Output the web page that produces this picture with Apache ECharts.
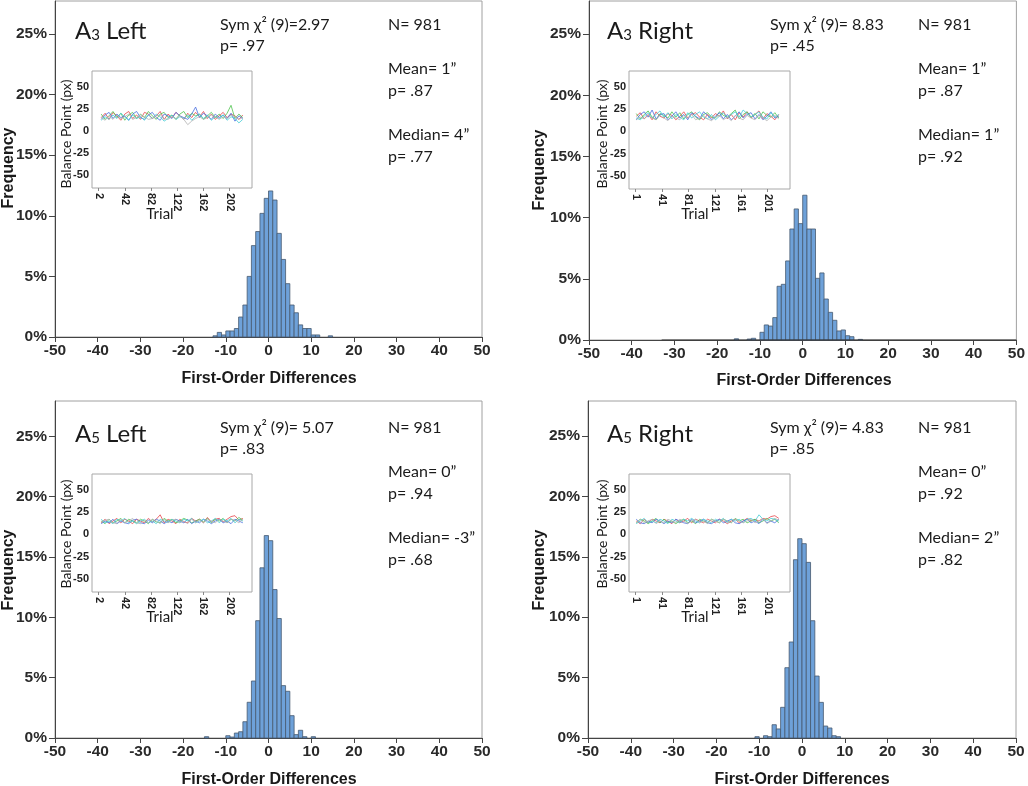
<!DOCTYPE html>
<html>
<head>
<meta charset="utf-8">
<script src="https://cdn.jsdelivr.net/npm/echarts@6/dist/echarts.min.js"></script>
<style>
  html, body { margin: 0; padding: 0; background: #fff; }
  #main { width: 1028px; height: 786px; }
</style>
</head>
<body>
<div id="main"></div>
<script>
// ---- histogram data: left edge of each 1-unit bin, frequency in % ----
var a3LeftBins = [-13,-12,-11,-10,-9,-8,-7,-6,-5,-4,-3,-2,-1,0,1,2,3,4,5,6,7,8,9,10,11,14];
var a3LeftFreq = [0.1,0.38,0.17,0.5,0.5,0.7,1.65,2.64,5.0,7.54,8.7,10.2,11.44,12.05,11.3,8.55,6.4,4.4,2.64,2.0,1.0,0.7,0.7,0.17,0.17,0.1];

var a3RightBins = [-16,-13,-12,-10,-9,-8,-7,-6,-5,-4,-3,-2,-1,0,1,2,3,4,5,6,7,8,9,10,11,13];
var a3RightFreq = [0.1,0.08,0.14,0.63,1.23,1.14,1.83,4.39,4.55,6.46,9.07,10.71,9.51,11.83,9.07,9.07,5.04,5.48,3.35,2.26,1.61,0.74,0.82,0.35,0.27,0.05];
var a3RightSpan = [[-33, 0], [50, 0]]; // empty bins drawn along the baseline

var a5LeftBins = [-15,-10,-9,-8,-7,-6,-5,-4,-3,-2,-1,0,1,2,3,4,5,6,7,8,10];
var a5LeftFreq = [0.11,0.19,0.08,0.41,0.52,1.35,2.96,4.72,9.72,14.1,16.77,16.35,12.3,9.9,4.34,3.87,1.85,0.28,0.64,0.11,0.11];

var a5RightBins = [-11,-9,-8,-7,-6,-5,-4,-3,-2,-1,0,1,2,3,4,5,6,7,8];
var a5RightFreq = [0.11,0.19,0.11,1.1,0.75,2.54,5.82,7.95,14.76,16.5,16.09,14.54,9.71,5.13,2.95,0.99,0.83,0.19,0.11];

// ---- axis tick labels ----
var yTicks = [0,5,10,15,20,25];
var insetYTicks = [-50,-25,0,25,50];
var trialTicksLeft = [2,42,82,122,162,202];
var trialTicksRight = [1,41,81,121,161,201];

// ---- inset trials (sampled) and balance point traces ----
var trialsLeft = [6,12,18,24,30,36,42,48,54,60,66,72,78,84,90,96,102,108,114,120,126,132,138,144,150,156,162,168,174,180,186,192,198,204,210,216,222];
var trialsRight = [2,8,14,20,26,32,38,44,50,56,62,68,74,80,86,92,98,104,110,116,122,128,134,140,146,152,158,164,170,176,182,188,194,200,206,212,218];

var tlRed   = [15,20,13,21,17,12,19,22,14,18,13,21,19,14,17,22,13,19,15,21,17,13,20,15,21,16,22,14,19,13,17,21,15,19,17,13,18];
var tlGreen = [19,13,17,22,15,20,12,18,21,14,19,15,22,17,13,19,21,15,18,13,19,22,15,20,17,19,13,17,21,15,19,14,20,29,14,19,15];
var tlBlue  = [13,18,21,14,19,15,17,12,19,22,15,13,18,21,15,12,19,17,14,21,17,15,13,19,27,15,20,17,13,19,15,18,14,20,11,17,14];
var tlCyan  = [12,16,13,18,14,20,16,12,18,14,16,12,18,14,19,16,11,14,18,13,16,14,18,12,16,19,14,18,12,16,14,18,12,16,14,9,13];
var tlGray  = [15,12,17,13,18,14,16,19,13,15,18,16,13,14,17,18,14,13,16,14,17,13,7,11,14,16,13,15,18,16,13,16,14,18,16,13,15];

var trRed   = [17,21,14,19,13,22,17,15,20,18,13,17,22,15,19,21,16,13,19,15,20,17,23,14,19,13,21,16,22,15,19,23,14,20,17,13,19];
var trGreen = [20,14,19,23,16,13,20,18,15,22,16,21,14,19,22,16,13,19,21,16,15,22,18,16,20,24,14,19,22,16,20,14,22,18,16,21,15];
var trBlue  = [13,19,22,16,24,14,19,20,13,17,22,15,19,13,21,17,14,22,18,13,17,21,14,19,13,17,22,15,19,21,14,19,13,17,22,15,17];
var trCyan  = [15,13,17,21,15,19,23,16,21,14,19,16,13,21,15,19,22,16,14,19,13,17,21,15,19,22,16,24,20,16,19,22,16,14,21,16,19];
var trGray  = [13,16,14,18,15,13,18,15,12,17,15,13,18,15,19,13,15,18,14,12,16,18,13,16,12,18,15,13,18,15,13,18,15,12,16,18,14];

var blRed   = [13,17,12,15,18,13,17,15,12,17,15,13,18,14,17,22,13,17,15,12,17,14,13,18,15,17,13,19,14,17,18,14,17,20,21,16,18];
var blGreen = [15,12,17,13,15,18,13,17,15,13,17,15,12,17,14,13,18,15,17,13,15,18,16,13,15,17,14,18,13,17,15,18,13,17,15,19,16];
var blBlue  = [12,15,13,17,12,15,13,12,16,17,13,12,16,13,17,15,12,15,13,17,15,13,17,12,15,13,17,15,12,15,17,13,15,12,17,15,13];
var blCyan  = [17,13,15,12,17,15,18,13,15,12,15,17,13,15,12,17,15,13,17,15,13,17,15,18,13,15,17,13,15,18,13,17,15,18,13,17,15];
var blGray  = [14,16,17,13,12,17,13,15,18,13,12,16,13,17,15,12,17,13,16,17,13,15,12,17,13,16,13,17,15,13,17,15,13,17,16,13,17];

var brRed   = [15,12,17,13,17,15,13,17,15,12,17,13,15,18,13,17,15,13,17,15,13,17,15,12,15,17,13,15,18,15,17,15,18,17,20,21,18];
var brGreen = [13,17,15,12,15,18,13,17,13,15,12,15,17,13,15,12,17,15,13,17,15,13,17,15,13,18,15,17,13,15,17,13,15,18,15,17,13];
var brBlue  = [17,13,12,15,13,17,15,12,15,13,17,15,13,12,17,13,15,17,13,12,15,17,13,15,17,13,12,15,17,13,15,12,17,13,15,13,17];
var brCyan  = [12,15,18,13,15,13,17,15,12,17,15,13,17,15,18,15,13,17,15,13,17,15,18,13,17,15,17,13,17,18,15,22,17,15,18,17,15];
var brGray  = [13,17,13,15,17,12,15,13,17,15,13,17,15,12,15,17,13,15,12,17,15,13,17,15,13,17,15,13,15,17,13,15,18,12,15,18,16];

// ---- panel texts ----
var titles = ['{t|A}{s|3}{t| Left}', '{t|A}{s|3}{t| Right}', '{t|A}{s|5}{t| Left}', '{t|A}{s|5}{t| Right}'];
var symTests = [
  ['Sym χ² (9)=2.97', 'p= .97'],
  ['Sym χ² (9)= 8.83', 'p= .45'],
  ['Sym χ² (9)= 5.07', 'p= .83'],
  ['Sym χ² (9)= 4.83', 'p= .85']
];
var descriptives = [
  ['N= 981', 'Mean= 1\u201D', 'p= .87', 'Median= 4\u201D', 'p= .77'],
  ['N= 981', 'Mean= 1\u201D', 'p= .87', 'Median= 1\u201D', 'p= .92'],
  ['N= 981', 'Mean= 0\u201D', 'p= .94', 'Median= -3\u201D', 'p= .68'],
  ['N= 981', 'Mean= 0\u201D', 'p= .92', 'Median= 2\u201D', 'p= .82']
];

var chart = echarts.init(document.getElementById('main'));

var axisFont = '"Liberation Sans", Arial, sans-serif';
var textFont = 'Lato, "Open Sans", sans-serif';
var lineColors = ['#e8474c', '#4fc44f', '#4a6fe0', '#47cdd6', '#b3b3b3'];

// positions of each panel (pixels)
var mainGrids = [
  { left: 55,  top: 1,   width: 427, height: 336, max: 27.72 },
  { left: 589, top: 1,   width: 430, height: 339, max: 27.7 },
  { left: 55,  top: 401, width: 427, height: 337, max: 27.92 },
  { left: 588, top: 401, width: 428, height: 337, max: 27.9 }
];
var insetGrids = [
  { left: 92,  top: 71,  width: 160, height: 117, xmin: -8, xmax: 236, ticks: trialTicksLeft },
  { left: 629, top: 71,  width: 161, height: 118, xmin: -9, xmax: 235, ticks: trialTicksRight },
  { left: 92,  top: 474, width: 160, height: 118, xmin: -8, xmax: 236, ticks: trialTicksLeft },
  { left: 629, top: 474, width: 161, height: 118, xmin: -9, xmax: 235, ticks: trialTicksRight }
];
var histBins = [a3LeftBins, a3RightBins, a5LeftBins, a5RightBins];
var histFreq = [a3LeftFreq, a3RightFreq, a5LeftFreq, a5RightFreq];
var insetLines = [
  [tlRed, tlGreen, tlBlue, tlCyan, tlGray],
  [trRed, trGreen, trBlue, trCyan, trGray],
  [blRed, blGreen, blBlue, blCyan, blGray],
  [brRed, brGreen, brBlue, brCyan, brGray]
];
var insetTrials = [trialsLeft, trialsRight, trialsLeft, trialsRight];

function renderBin(params, api) {
  var x0 = api.value(0);
  var v = api.value(1);
  var pTop = api.coord([x0, v]);
  var pBase = api.coord([x0 + 1, 0]);
  return {
    type: 'rect',
    shape: { x: pTop[0], y: pTop[1], width: pBase[0] - pTop[0], height: pBase[1] - pTop[1] },
    style: { fill: '#6ea1d9', stroke: '#46596f', lineWidth: 0.8 }
  };
}

var grid = [], xAxis = [], yAxis = [], series = [], elements = [];

mainGrids.forEach(function (g, i) {
  grid.push({ left: g.left, top: g.top, width: g.width, height: g.height, show: true, borderColor: '#a0a0a0', borderWidth: 1 });
  xAxis.push({
    gridIndex: i, type: 'value', min: -50, max: 50, interval: 10,
    axisLine: { onZero: false, lineStyle: { color: '#444', width: 1 } },
    axisTick: { length: 5, lineStyle: { color: '#444' } },
    axisLabel: { fontFamily: axisFont, fontSize: 15.5, fontWeight: 'bold', color: '#2a2a2a', margin: 6 },
    splitLine: { show: false }
  });
  yAxis.push({
    gridIndex: i, type: 'value', min: 0, max: g.max,
    axisLine: { show: true, onZero: false, lineStyle: { color: '#444', width: 1 } },
    axisTick: { show: true, length: 6, customValues: yTicks, lineStyle: { color: '#444' } },
    axisLabel: { customValues: yTicks, formatter: '{value}%', fontFamily: axisFont, fontSize: 15.5, fontWeight: 'bold', color: '#2a2a2a', margin: 8 },
    splitLine: { show: false }
  });
  series.push({
    type: 'custom', xAxisIndex: i, yAxisIndex: i, renderItem: renderBin,
    encode: { x: 0, y: 1 },
    data: histBins[i].map(function (b, k) { return [b, histFreq[i][k]]; }),
    z: 3
  });
});

series.push({
  type: 'line', xAxisIndex: 1, yAxisIndex: 1, data: a3RightSpan,
  showSymbol: false, lineStyle: { color: '#333', width: 1.2 }, z: 4, silent: true
});

insetGrids.forEach(function (g, j) {
  var idx = 4 + j;
  grid.push({ left: g.left, top: g.top, width: g.width, height: g.height, show: true, backgroundColor: '#fff', borderColor: '#a8a8a8', borderWidth: 1 });
  xAxis.push({
    gridIndex: idx, type: 'value', min: g.xmin, max: g.xmax,
    axisLine: { show: false, onZero: false },
    axisTick: { show: true, length: 3, customValues: g.ticks, lineStyle: { color: '#888' } },
    axisLabel: { customValues: g.ticks, rotate: -90, fontFamily: axisFont, fontSize: 11, fontWeight: 'bold', color: '#222', margin: 5 },
    splitLine: { show: false }
  });
  yAxis.push({
    gridIndex: idx, type: 'value', min: -65, max: 68,
    axisLine: { show: false, onZero: false },
    axisTick: { show: false },
    axisLabel: { customValues: insetYTicks, fontFamily: axisFont, fontSize: 11, fontWeight: 'bold', color: '#222', margin: 3 },
    splitLine: { show: false }
  });
  insetLines[j].forEach(function (vals, c) {
    series.push({
      type: 'line', xAxisIndex: idx, yAxisIndex: idx, showSymbol: false, silent: true,
      data: insetTrials[j].map(function (t, k) { return [t, vals[k]]; }),
      lineStyle: { color: lineColors[c], width: 0.9, opacity: 0.9 }, z: 5
    });
  });
});

function txt(x, y, text, font, opts) {
  opts = opts || {};
  var el = {
    type: 'text', x: x, y: y, rotation: opts.rotation || 0, z: 100, silent: true,
    style: {
      text: text, x: 0, y: 0, font: font, fill: '#1a1a1a',
      align: opts.align || 'left', verticalAlign: 'middle',
      textAlign: opts.align || 'left', textVerticalAlign: 'middle'
    }
  };
  if (opts.rich) el.style.rich = opts.rich;
  elements.push(el);
}

var titleRich = {
  t: { fontFamily: textFont, fontSize: 24, fill: '#1a1a1a', color: '#1a1a1a' },
  s: { fontFamily: textFont, fontSize: 15, fill: '#1a1a1a', color: '#1a1a1a', verticalAlign: 'bottom' }
};

// text anchor points per panel
var panelText = [
  { titleX: 75,  titleY: 31,  symX: 220, descX: 388, top: 0 },
  { titleX: 607, titleY: 31,  symX: 770, descX: 918, top: 0 },
  { titleX: 75,  titleY: 434, symX: 220, descX: 388, top: 403 },
  { titleX: 607, titleY: 434, symX: 770, descX: 918, top: 403 }
];
var descY = [25, 68.5, 90.5, 135, 156.5];
var axisNamePos = [
  { fx: 9,   fy: 168, dx: 269, dy: 379, bx: 66,  by: 134, tx: 160, ty: 214 },
  { fx: 540, fy: 170, dx: 804, dy: 381, bx: 602, by: 134, tx: 695, ty: 214 },
  { fx: 9,   fy: 570, dx: 269, dy: 780, bx: 66,  by: 534, tx: 160, ty: 617 },
  { fx: 540, fy: 570, dx: 802, dy: 780, bx: 602, by: 534, tx: 695, ty: 617 }
];

panelText.forEach(function (p, i) {
  txt(p.titleX, p.titleY, titles[i], '24px ' + textFont, { rich: titleRich });
  txt(p.symX, p.top + 25, symTests[i][0], '16px ' + textFont);
  txt(p.symX, p.top + 46, symTests[i][1], '16px ' + textFont);
  descriptives[i].forEach(function (s, k) {
    txt(p.descX, p.top + descY[k], s, '16px ' + textFont);
  });
  var a = axisNamePos[i];
  txt(a.fx, a.fy, 'Frequency', 'bold 16px ' + axisFont, { align: 'center', rotation: Math.PI / 2 });
  txt(a.dx, a.dy, 'First-Order Differences', 'bold 16px ' + axisFont, { align: 'center' });
  txt(a.bx, a.by, 'Balance Point (px)', '14px ' + textFont, { align: 'center', rotation: Math.PI / 2 });
  txt(a.tx, a.ty, 'Trial', '15px ' + textFont, { align: 'center' });
});

chart.setOption({
  backgroundColor: '#fff',
  animation: false,
  grid: grid,
  xAxis: xAxis,
  yAxis: yAxis,
  series: series,
  graphic: { elements: elements }
});
</script>
</body>
</html>
